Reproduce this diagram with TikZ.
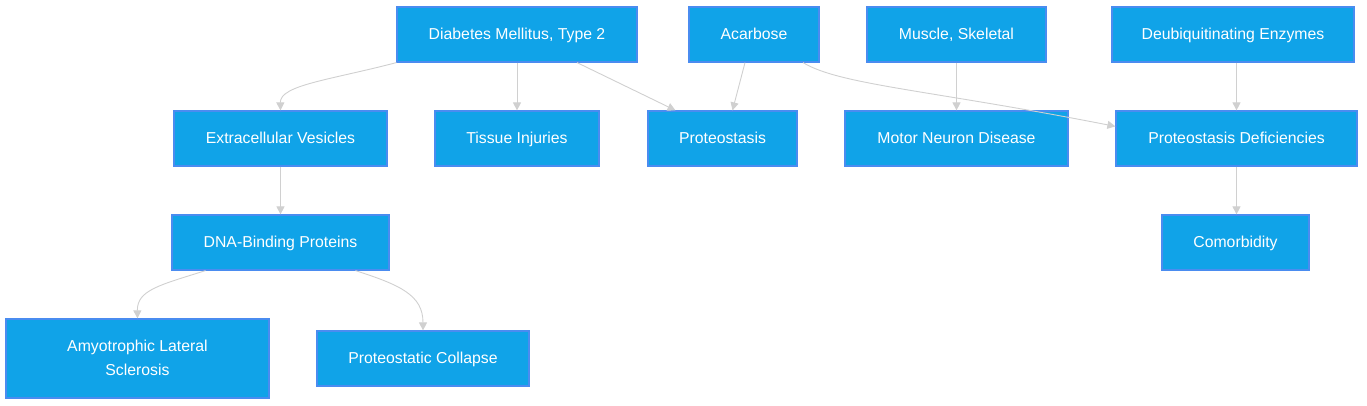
\documentclass[tikz,border=0pt]{standalone}
\usepackage{fontspec}
\setmainfont{Liberation Sans}
\usetikzlibrary{arrows.meta}
\definecolor{boxfill}{HTML}{10A3E8}
\definecolor{boxline}{HTML}{4A8CF0}
\definecolor{edge}{HTML}{D0D0D0}
\begin{document}
\begin{tikzpicture}[x=1pt,y=-1pt,
  box/.style={draw=boxline,line width=1.2pt,fill=boxfill,text=white,inner sep=0pt,
    font=\fontsize{15.8}{24}\selectfont,align=center},
  conn/.style={draw=edge,line width=0.9pt,-{Triangle[length=8pt,width=8pt]}}]
\useasboundingbox (0,0) rectangle (1367,406);
\node[box,minimum width=240pt,minimum height=55pt] (dm) at (517,34.5) {Diabetes Mellitus, Type 2\strut};
\node[box,minimum width=130pt,minimum height=55pt] (ac) at (754,34.5) {Acarbose\strut};
\node[box,minimum width=179pt,minimum height=55pt] (ms) at (956.5,34.5) {Muscle, Skeletal\strut};
\node[box,minimum width=242pt,minimum height=55pt] (de) at (1233,34.5) {Deubiquitinating Enzymes\strut};
\node[box,minimum width=213pt,minimum height=55pt] (ev) at (280.5,138.5) {Extracellular Vesicles\strut};
\node[box,minimum width=164pt,minimum height=55pt] (ti) at (517,138.5) {Tissue Injuries\strut};
\node[box,minimum width=149pt,minimum height=55pt] (pr) at (722.5,138.5) {Proteostasis\strut};
\node[box,minimum width=223pt,minimum height=55pt] (mn) at (956.5,138.5) {Motor Neuron Disease\strut};
\node[box,minimum width=241pt,minimum height=55pt] (pd) at (1236.5,138.5) {Proteostasis Deficiencies\strut};
\node[box,minimum width=217pt,minimum height=55pt] (db) at (280.5,242.5) {DNA-Binding Proteins\strut};
\node[box,minimum width=147pt,minimum height=55pt] (co) at (1235.5,242.5) {Comorbidity\strut};
\node[box,minimum width=263pt,minimum height=79pt] (al) at (137.5,358.5) {Amyotrophic Lateral\strut\\Sclerosis\strut};
\node[box,minimum width=212pt,minimum height=55pt] (pc) at (423,358.5) {Proteostatic Collapse\strut};

\draw[conn] (dm.south west) .. controls (330,80) and (280,85) .. (ev.north);
\draw[conn] (dm.south) -- (ti.north);
\draw[conn] ([xshift=60pt]dm.south) -- ([xshift=-47pt]pr.north);
\draw[conn] ([xshift=-9pt]ac.south) -- ([xshift=10pt]pr.north);
\draw[conn] ([xshift=49pt]ac.south) .. controls (840,85) and (930,90) .. ([yshift=-16pt]pd.north west);
\draw[conn] (ms.south) -- (mn.north);
\draw[conn] ([xshift=3.5pt]de.south) -- (pd.north);
\draw[conn] (ev.south) -- (db.north);
\draw[conn] ([xshift=-75pt]db.south) .. controls (160,285) and (137,290) .. (al.north);
\draw[conn] ([xshift=75pt]db.south) .. controls (400,285) and (423,295) .. (pc.north);
\draw[conn] (pd.south) -- ([xshift=1pt]co.north);
\end{tikzpicture}
\end{document}
